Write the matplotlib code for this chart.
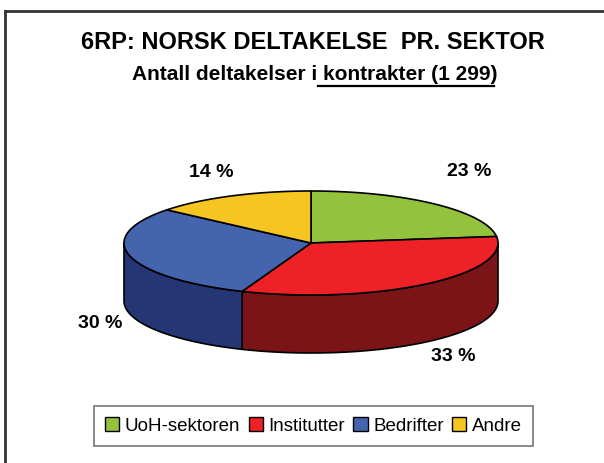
import numpy as np
import matplotlib
matplotlib.use("Agg")
import matplotlib.pyplot as plt
from matplotlib.patches import Polygon, Patch
from matplotlib.lines import Line2D

plt.rcParams['font.family'] = ['Liberation Sans', 'DejaVu Sans']

# ---- data ----
categories = ["UoH-sektoren", "Institutter", "Bedrifter", "Andre"]
shares = [23, 33, 30, 14]
labels = ["23 %", "33 %", "30 %", "14 %"]
title = "6RP: NORSK DELTAKELSE  PR. SEKTOR"
subtitle_plain = "Antall deltakelser i"
subtitle_under = " kontrakter (1 299"
subtitle_end = ")"

# ---- style ----
top_colors = ["#93C23C", "#EE2226", "#4465AE", "#F5C521"]
side_colors = ["#5E7D24", "#7A1416", "#253675", "#9C7E14"]

W, H = 604, 463
fig = plt.figure(figsize=(W / 100, H / 100), dpi=100)
ax = fig.add_axes([0, 0, 1, 1])
ax.set_xlim(0, W)
ax.set_ylim(H, 0)
ax.axis("off")

cx, cy = 311, 243
rx, ry = 187, 52
depth = 58


def ell(t):
    t = np.radians(t)
    return cx + rx * np.cos(t), cy - ry * np.sin(t)


total = float(sum(shares))
starts = []
ends = []
a = 90.0
for v in shares:
    starts.append(a)
    a -= 360.0 * v / total
    ends.append(a)

# side walls (front half only: angles in [-180, 0])
for s, e, sc in zip(starts, ends, side_colors):
    lo, hi = e, s
    for shift in (0, -360):
        l2, h2 = lo + shift, hi + shift
        a1, a2 = max(l2, -180), min(h2, 0)
        if a2 > a1:
            ts = np.linspace(a2, a1, 80)
            xs, ys = ell(ts)
            pts = np.column_stack([np.r_[xs, xs[::-1]], np.r_[ys, ys[::-1] + depth]])
            ax.add_patch(Polygon(pts, closed=True, facecolor=sc, edgecolor="black",
                                 linewidth=1.2, joinstyle="round", zorder=2))

# top wedges
for s, e, tc in zip(starts, ends, top_colors):
    ts = np.linspace(s, e, 120)
    xs, ys = ell(ts)
    pts = np.column_stack([np.r_[cx, xs], np.r_[cy, ys]])
    ax.add_patch(Polygon(pts, closed=True, facecolor=tc, edgecolor="black",
                         linewidth=1.2, joinstyle="round", zorder=3))

# data labels
nudges = [(6, -5), (1, -14), (12, 1), (-2, 9)]
for s, e, lab, (nx, ny) in zip(starts, ends, labels, nudges):
    m = np.radians((s + e) / 2)
    lx = cx + 230 * np.cos(m)
    ly = cy - 88 * np.sin(m) + (depth if np.sin(m) < 0 else 0)
    ax.text(lx + nx, ly + ny, lab, ha="center", va="center", fontsize=14,
            fontweight="bold", color="black", zorder=5)

# titles
fig.text(313 / W, 1 - 42.5 / H, title, ha="center", va="center", fontsize=17,
         fontweight="bold")
full = subtitle_plain + subtitle_under + subtitle_end
sub_fs = 15.0
st = fig.text(315 / W, 1 - 75 / H, full, ha="center", va="center", fontsize=sub_fs,
              fontweight="bold")

fig.canvas.draw()
r = fig.canvas.get_renderer()
bb = st.get_window_extent(r)
tmp = fig.text(0, 0, subtitle_plain + " ", fontsize=sub_fs, fontweight="bold")
w_pre = tmp.get_window_extent(r).width
tmp2 = fig.text(0, 0, subtitle_end, fontsize=sub_fs, fontweight="bold")
w_end = tmp2.get_window_extent(r).width
tmp.remove(); tmp2.remove()
x0 = bb.x0 + w_pre - 5
x1 = bb.x1 - w_end * 0.5
yline = bb.y0 - 1
fig.add_artist(Line2D([x0 / W, x1 / W], [yline / H, yline / H], color="black",
                      linewidth=1.6, transform=fig.transFigure))

# legend
handles = [Patch(facecolor=c, edgecolor="black", linewidth=1.0) for c in top_colors]
leg = fig.legend(handles, categories, loc="center", bbox_to_anchor=(313.5 / W, 1 - 426 / H),
                 ncol=4, frameon=True, fancybox=False, fontsize=13.5,
                 handlelength=0.75, handleheight=0.75, handletextpad=0.3,
                 columnspacing=0.45, borderpad=0.6, borderaxespad=0)
leg.get_frame().set_edgecolor("#555555")
leg.get_frame().set_linewidth(1.2)

# outer border (top and left)
fig.add_artist(Line2D([4.5 / W, 1], [1 - 10.5 / H, 1 - 10.5 / H], color="#333333",
                      linewidth=2, transform=fig.transFigure))
fig.add_artist(Line2D([4.5 / W, 4.5 / W], [0, 1 - 10.5 / H], color="#333333",
                      linewidth=2, transform=fig.transFigure))

fig.savefig("out.png", dpi=100)
